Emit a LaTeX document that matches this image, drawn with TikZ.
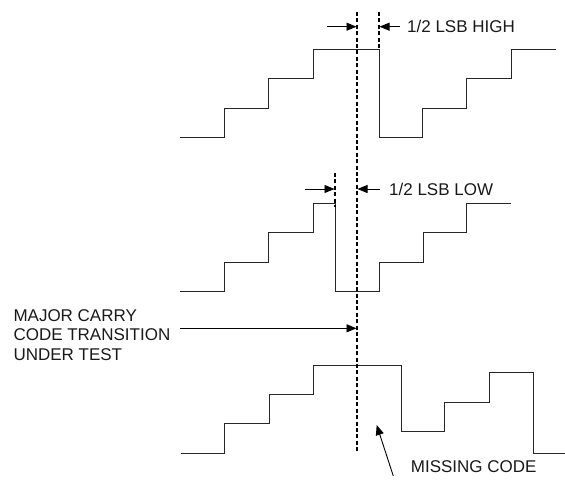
\documentclass[tikz,border=0pt]{standalone}
\usepackage{fontspec}
\setmainfont{Liberation Sans}
\usetikzlibrary{arrows.meta}
\begin{document}
\begin{tikzpicture}[x=1pt,y=-1pt,
  wave/.style={line width=0.9pt,color=black!85,line join=miter},
  dashln/.style={line width=1.5pt,dash pattern=on 4pt off 2.4pt},
  arr/.style={line width=0.9pt,-{Triangle[length=10pt,width=8pt]}},
  lbl/.style={font=\fontsize{17}{20}\selectfont,inner sep=0pt,anchor=base west,color=black!90}]
\useasboundingbox (0,0) rectangle (565,483);
% waveforms
\draw[wave] (180,137) -- (224,137) -- (224,108) -- (268,108) -- (268,78) -- (313,78) -- (313,49) -- (379,49) -- (379,137) -- (422,137) -- (422,108) -- (466,108) -- (466,78) -- (511,78) -- (511,49) -- (556,49);
\draw[wave] (180,291) -- (224,291) -- (224,262) -- (268,262) -- (268,232) -- (313,232) -- (313,203) -- (335,203) -- (335,291) -- (379,291) -- (379,262) -- (423,262) -- (423,232) -- (466,232) -- (466,203) -- (511,203);
\draw[wave] (181,453) -- (224,453) -- (224,423) -- (269,423) -- (269,394) -- (313,394) -- (313,365) -- (401,365) -- (401,431) -- (444,431) -- (444,402) -- (489,402) -- (489,372) -- (533,372) -- (533,453) -- (565,453);
% dashed lines
\coordinate (mtop) at (357,12);
\coordinate (mbot) at (357,453);
\coordinate (htop) at (379,12);
\coordinate (hbot) at (379,49);
\coordinate (ltop) at (335,173);
\coordinate (lbot) at (335,207);
\draw[dashln] (mtop) -- (mbot);
\draw[dashln] (htop) -- (hbot);
\draw[dashln] (ltop) -- (lbot);
% arrows top
\coordinate (a1s) at (327,26.7);
\coordinate (a1e) at (356.5,26.7);
\coordinate (a2s) at (400,26.7);
\coordinate (a2e) at (379.5,26.7);
\draw[arr] (a1s) -- (a1e);
\draw[arr] (a2s) -- (a2e);
\node[lbl] (high) at (407,32.8) {1/2 LSB HIGH};
% arrows middle
\coordinate (b1s) at (305,189);
\coordinate (b1e) at (334.5,189);
\coordinate (b2s) at (380,189);
\coordinate (b2e) at (357.5,189);
\draw[arr] (b1s) -- (b1e);
\draw[arr] (b2s) -- (b2e);
\node[lbl] (low) at (389,195) {1/2 LSB LOW};
% major carry
\node[lbl] (mc1) at (13.3,321) {MAJOR CARRY};
\node[lbl] (mc2) at (13.3,340.7) {CODE TRANSITION};
\node[lbl] (mc3) at (13.3,360.7) {UNDER TEST};
\coordinate (c1s) at (180,328.3);
\coordinate (c1e) at (356.5,328.3);
\draw[arr] (c1s) -- (c1e);
% missing code
\node[lbl] (miss) at (410.7,472.7) {MISSING CODE};
\coordinate (ms) at (393.3,476);
\coordinate (me) at (376.7,425);
\draw[arr] (ms) -- (me);
\end{tikzpicture}
\end{document}
